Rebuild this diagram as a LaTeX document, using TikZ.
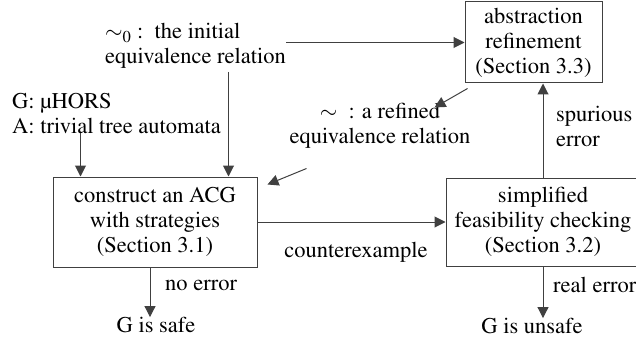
\documentclass[tikz,border=0pt]{standalone}
\usepackage[T1]{fontenc}
\usepackage{mathptmx}
\usetikzlibrary{arrows.meta,positioning}
\tikzset{
    every node/.append style={font=\fontsize{22.5}{25}\selectfont},
    box/.style={draw=black!75, line width=1pt, align=center, inner sep=0pt},
    lbl/.style={align=center, inner sep=0pt},
    flow/.style={draw=black!75, line width=1pt, -{Triangle[length=11pt,width=11pt]}}}

\begin{document}
\begin{tikzpicture}[x=1pt,y=-1pt]
    \useasboundingbox (0,0) rectangle (636,339);
    % boxes
    \node[box, minimum width=137pt, minimum height=81pt] (refine) at (533.5,42.5)
        {abstraction\\refinement\\(Section 3.3)};
    \node[box, minimum width=204pt, minimum height=90pt] (acg) at (155,222)
        {construct an ACG\\with strategies\\(Section 3.1)};
    \node[box, minimum width=194pt, minimum height=88pt] (feas) at (543,222)
        {simplified\\feasibility checking\\(Section 3.2)};
    % texts
    \node[lbl, align=left, anchor=west] (init) at (105,46) {$\sim_0$ :\ \ the initial\\equivalence relation};
    \node[lbl, align=left, anchor=west] (input) at (12,113) {G: \textmu HORS\\A: trivial tree automata};
    \node[lbl] (refd) at (380,126) {$\sim$\ \ : a refined\\equivalence relation};
    \node[lbl, align=left, anchor=west] (spur) at (556,126) {spurious\\error};
    \node[lbl] (cex) at (356,252) {counterexample};
    \node[lbl, anchor=west] (noerr) at (165,285) {no error};
    \node[lbl, anchor=west] (realerr) at (553,285) {real error};
    \node[lbl] (safe) at (156,325) {G is safe};
    \node[lbl] (unsafe) at (532,326) {G is unsafe};
    % helper points
    \coordinate (inA) at ([xshift=28pt]acg.north west);
    \coordinate (inB) at ([xshift=-29pt]acg.north east);
    \coordinate (outS) at ([xshift=-5pt]acg.south);
    \coordinate (rfA) at ([shift={(3pt,-5pt)}]refine.south west);
    \coordinate (rfB) at ([shift={(-30pt,-24pt)}]refine.south west);
    \coordinate (rfC) at ([shift={(49pt,8pt)}]acg.north east);
    \coordinate (rfD) at ([shift={(10pt,-8pt)}]acg.north east);

    \draw[flow] (inA |- input.south) -- (inA);
    \draw[flow] ([yshift=-3pt]inB |- init.south) -- (inB);
    \draw[flow] (init.east |- refine.west) -- (refine.west);
    \draw[flow] (rfA) -- (rfB);
    \draw[flow] (rfC) -- (rfD);
    \draw[flow] (acg.east) -- (feas.west);
    \draw[flow] (feas.north) -- (feas.north |- refine.south);
    \draw[flow] (outS) -- (outS |- safe.north);
    \draw[flow] (feas.south) -- (feas.south |- unsafe.north);
\end{tikzpicture}
\end{document}
